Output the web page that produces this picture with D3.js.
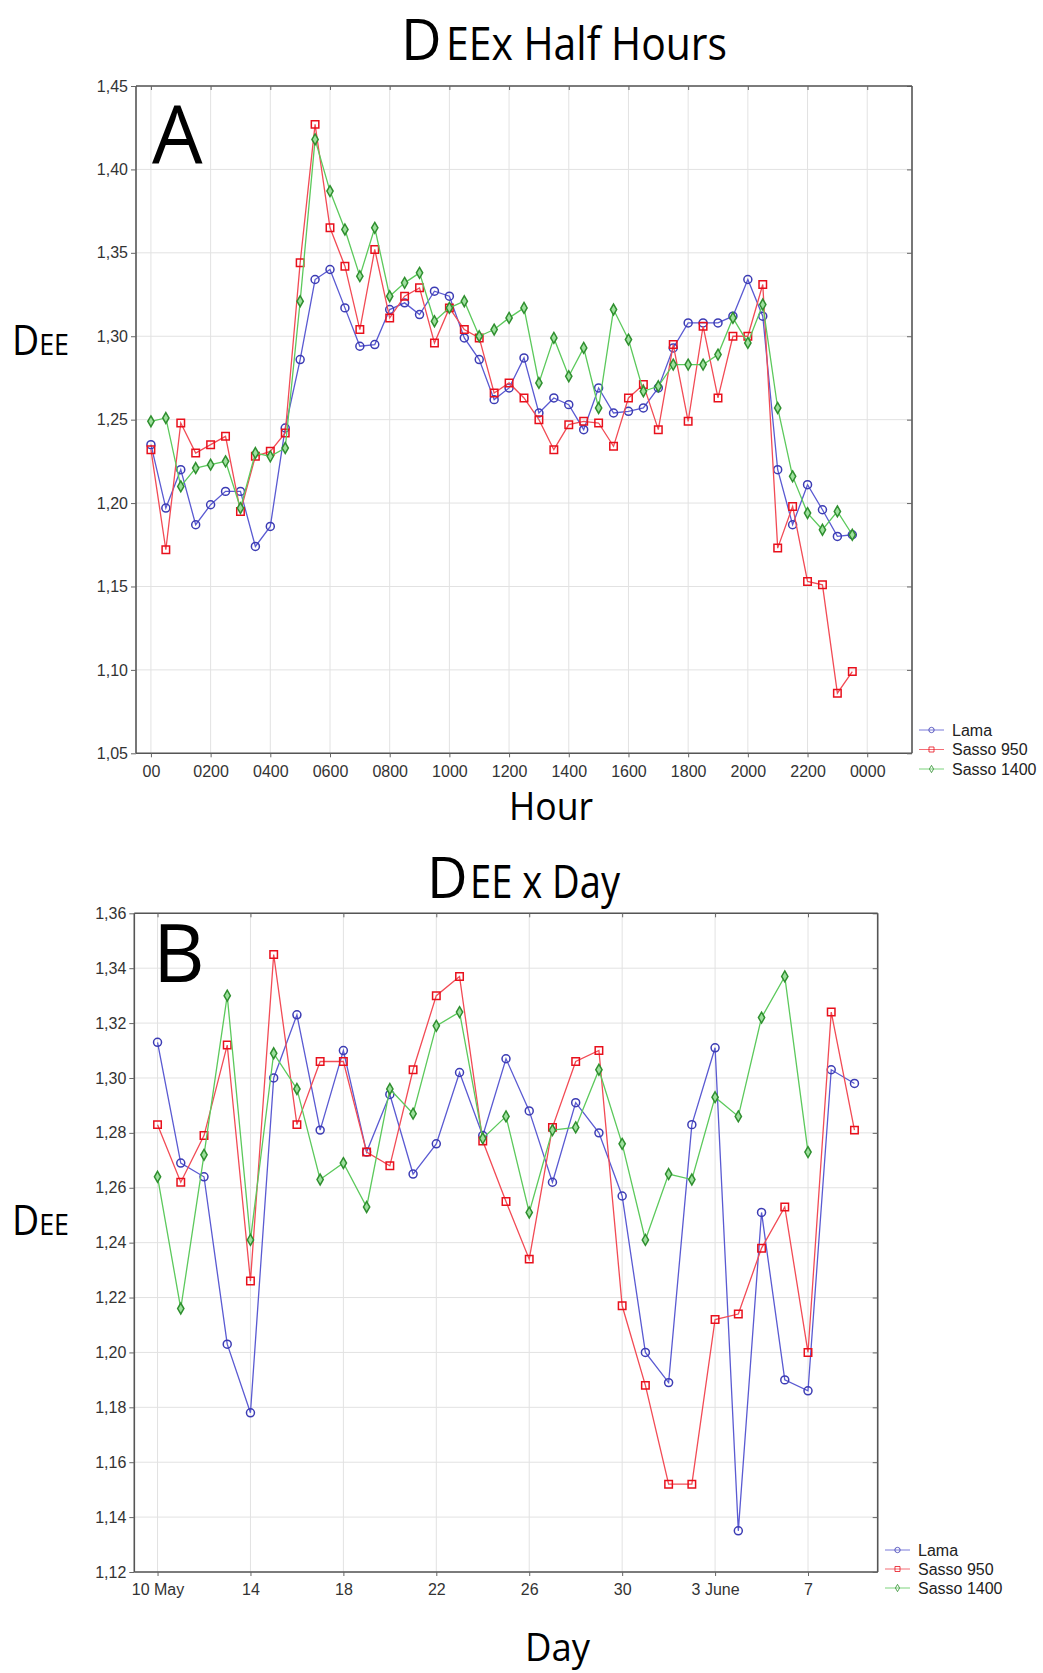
<!DOCTYPE html>
<html><head><meta charset="utf-8">
<script src="https://cdn.jsdelivr.net/npm/d3@7"></script>
<style>body{margin:0;background:#fff}svg{display:block}</style>
</head><body>
<script>
// ---------- DATA ----------
const seriesNames = ["Lama", "Sasso 950", "Sasso 1400"];
const hourTickLabels = ["00","0200","0400","0600","0800","1000","1200","1400","1600","1800","2000","2200","0000"];
const hourYTicks = [1.05,1.10,1.15,1.20,1.25,1.30,1.35,1.40,1.45];
const lamaHalfHour = [1.235,1.197,1.220,1.187,1.199,1.207,1.207,1.174,1.186,1.245,
 1.286,1.334,1.340,1.317,1.294,1.295,1.316,1.320,1.313,1.327,
 1.324,1.299,1.286,1.262,1.269,1.287,1.254,1.263,1.259,1.244,
 1.269,1.254,1.255,1.257,1.269,1.293,1.308,1.308,1.308,1.312,
 1.334,1.312,1.220,1.187,1.211,1.196,1.180,1.181];
const sasso950HalfHour = [1.232,1.172,1.248,1.230,1.235,1.240,1.195,1.228,1.231,1.242,
 1.344,1.427,1.365,1.342,1.304,1.352,1.311,1.324,1.329,1.296,
 1.317,1.304,1.299,1.266,1.272,1.263,1.250,1.232,1.247,1.249,
 1.248,1.234,1.263,1.271,1.244,1.295,1.249,1.306,1.263,1.300,
 1.300,1.331,1.173,1.198,1.153,1.151,1.086,1.099];
const sasso1400HalfHour = [1.249,1.251,1.210,1.221,1.223,1.225,1.197,1.230,1.228,1.233,
 1.321,1.418,1.387,1.364,1.336,1.365,1.324,1.332,1.338,1.309,
 1.317,1.321,1.300,1.304,1.311,1.317,1.272,1.299,1.276,1.293,
 1.257,1.316,1.298,1.267,1.270,1.283,1.283,1.283,1.289,1.311,
 1.296,1.319,1.257,1.216,1.194,1.184,1.195,1.181];

const dayTickLabels = ["10 May","14","18","22","26","30","3 June","7"];
const dayYTicks = [1.12,1.14,1.16,1.18,1.20,1.22,1.24,1.26,1.28,1.30,1.32,1.34,1.36];
const lamaDay = [1.313,1.269,1.264,1.203,1.178,1.300,1.323,1.281,1.310,1.273,
 1.294,1.265,1.276,1.302,1.279,1.307,1.288,1.262,1.291,1.280,
 1.257,1.200,1.189,1.283,1.311,1.135,1.251,1.190,1.186,1.303,1.298];
const sasso950Day = [1.283,1.262,1.279,1.312,1.226,1.345,1.283,1.306,1.306,1.273,
 1.268,1.303,1.330,1.337,1.277,1.255,1.234,1.282,1.306,1.310,
 1.217,1.188,1.152,1.152,1.212,1.214,1.238,1.253,1.200,1.324,1.281];
const sasso1400Day = [1.264,1.216,1.272,1.330,1.241,1.309,1.296,1.263,1.269,1.253,
 1.296,1.287,1.319,1.324,1.278,1.286,1.251,1.281,1.282,1.303,
 1.276,1.241,1.265,1.263,1.293,1.286,1.322,1.337,1.273,null,null];

// ---------- STYLE ----------
const styles = [
  {line:"#5a5ad2", mark:"#3c3cb4", fill:"none", shape:d3.symbolCircle, size:50},
  {line:"#f24b55", mark:"#e8101c", fill:"none", shape:d3.symbolSquare, size:56},
  {line:"#5cc95c", mark:"#2f8f2f", fill:"#9ee09e", shape:d3.symbolDiamond, size:34}
];
const W = 1043, H = 1673;
const svg = d3.select("body").append("svg").attr("width", W).attr("height", H)
  .style("background", "#fff");
const tickFont = "'Liberation Sans', Arial, sans-serif";
const titleFont = "'Open Sans', 'DejaVu Sans', sans-serif";
const fmt = v => d3.format(".2f")(v).replace(".", ",");

function panel(cfg) {
  const g = svg.append("g");
  const x = d3.scaleLinear().domain(cfg.xDomain).range([cfg.left, cfg.right]);
  const y = d3.scaleLinear().domain(cfg.yDomain).range([cfg.bottom, cfg.top]);
  // grid
  g.append("g").selectAll("line.v").data(cfg.xTicks).join("line")
    .attr("x1", d => x(d)).attr("x2", d => x(d)).attr("y1", cfg.top).attr("y2", cfg.bottom)
    .attr("stroke", "#e2e2e2").attr("stroke-width", 1);
  g.append("g").selectAll("line.h").data(cfg.yTicks).join("line")
    .attr("x1", cfg.left).attr("x2", cfg.right).attr("y1", d => y(d)).attr("y2", d => y(d))
    .attr("stroke", "#e2e2e2").attr("stroke-width", 1);
  // axes
  const axL = g.append("g").attr("transform", `translate(${cfg.left},0)`)
    .call(d3.axisLeft(y).tickValues(cfg.yTicks).tickFormat(fmt).tickSize(5).tickPadding(3));
  const axB = g.append("g").attr("transform", `translate(0,${cfg.bottom})`)
    .call(d3.axisBottom(x).tickValues(cfg.xTicks).tickFormat((d,i) => cfg.xLabels[i]).tickSize(4).tickPadding(8));
  const axR = g.append("g").attr("transform", `translate(${cfg.right},0)`)
    .call(d3.axisLeft(y).tickValues(cfg.yTicks).tickFormat("").tickSize(-5).tickSizeOuter(0));
  axR.selectAll(".tick line").attr("x2", -5);
  const axT = g.append("g").attr("transform", `translate(0,${cfg.top})`)
    .call(d3.axisTop(x).tickValues(cfg.xTicks).tickFormat("").tickSizeOuter(0));
  axT.selectAll(".tick line").attr("y2", 4);
  [axL, axB, axR, axT].forEach(a => {
    a.select(".domain").attr("stroke", "#555").attr("stroke-width", 1.6);
    a.selectAll(".tick line").attr("stroke", "#666");
    a.selectAll("text").attr("font-family", tickFont).attr("font-size", 16).attr("fill", "#333");
  });
  axL.select(".domain").attr("d", `M0,${cfg.top}V${cfg.bottom}`);
  axB.select(".domain").attr("d", `M${cfg.left},0H${cfg.right}`);
  axR.select(".domain").attr("d", `M0,${cfg.top}V${cfg.bottom}`);
  axT.select(".domain").attr("d", `M${cfg.left},0H${cfg.right}`);

  // series
  cfg.series.forEach((vals, si) => {
    const st = styles[si];
    const pts = vals.map((v, i) => ({i, v})).filter(d => d.v != null);
    g.append("path").datum(pts)
      .attr("d", d3.line().x(d => x(d.i)).y(d => y(d.v)))
      .attr("fill", "none").attr("stroke", st.line).attr("stroke-width", 1.3);
    g.append("g").selectAll("path").data(pts).join("path")
      .attr("d", d3.symbol().type(st.shape).size(st.size))
      .attr("transform", d => `translate(${x(d.i)},${y(d.v)})`)
      .attr("fill", st.fill).attr("stroke", st.mark).attr("stroke-width", 1.5);
  });

  // panel letter
  g.append("text").attr("x", cfg.letterX).attr("y", cfg.letterY).text(cfg.letter)
    .attr("font-family", titleFont).attr("font-size", 80).attr("fill", "#000");

  // legend
  seriesNames.forEach((name, si) => {
    const st = styles[si];
    const cy = cfg.legY + si * cfg.legStep;
    g.append("line").attr("x1", cfg.legX).attr("x2", cfg.legX + 25).attr("y1", cy).attr("y2", cy)
      .attr("stroke", st.line).attr("stroke-width", 1).attr("opacity", 0.8);
    g.append("path").attr("d", d3.symbol().type(st.shape).size(st.size * 0.45))
      .attr("transform", `translate(${cfg.legX + 12.5},${cy})`)
      .attr("fill", "none").attr("stroke", st.mark).attr("stroke-width", 1).attr("opacity", 0.8);
    g.append("text").attr("x", cfg.legX + 33).attr("y", cy + 5.5).text(name)
      .attr("font-family", tickFont).attr("font-size", 16).attr("fill", "#222");
  });

  // title: large initial "D" (natural width) + rest
  g.append("text").attr("x", cfg.titleX).attr("y", cfg.titleY).text("D")
    .attr("font-family", titleFont).attr("font-size", 56).attr("fill", "#000");
  g.append("text").attr("x", cfg.restX).attr("y", cfg.titleY).text(cfg.titleRest)
    .attr("font-family", titleFont).attr("font-size", 45).attr("fill", "#000")
    .attr("textLength", cfg.titleW).attr("lengthAdjust", "spacingAndGlyphs");

  // y label
  const yl = g.append("text").attr("x", 12).attr("y", cfg.yLabY)
    .attr("font-family", titleFont).attr("fill", "#000");
  yl.append("tspan").attr("font-size", 42).text("D");
  yl.append("tspan").attr("font-size", 30).text("EE");
  yl.attr("textLength", 57).attr("lengthAdjust", "spacingAndGlyphs");

  // x label
  g.append("text").attr("x", cfg.xLabX).attr("y", cfg.xLabY).text(cfg.xLab)
    .attr("font-family", titleFont).attr("font-size", 38).attr("fill", "#000")
    .attr("textLength", cfg.xLabW).attr("lengthAdjust", "spacingAndGlyphs");
}

panel({
  left: 136, right: 912, top: 86, bottom: 753.3,
  xDomain: [-1, 51], yDomain: [1.05, 1.45],
  xTicks: d3.range(0, 49, 4), xLabels: hourTickLabels, yTicks: hourYTicks,
  series: [lamaHalfHour, sasso950HalfHour, sasso1400HalfHour],
  letter: "A", letterX: 152, letterY: 163,
  legX: 919, legY: 730, legStep: 19.5,
  titleX: 401, restX: 446, titleY: 60, titleRest: "EEx Half Hours", titleW: 281,
  yLabY: 355, xLab: "Hour", xLabX: 509, xLabY: 820, xLabW: 84
});

panel({
  left: 134.3, right: 877.7, top: 913.3, bottom: 1572,
  xDomain: [-1, 31], yDomain: [1.12, 1.36],
  xTicks: d3.range(0, 29, 4), xLabels: dayTickLabels, yTicks: dayYTicks,
  series: [lamaDay, sasso950Day, sasso1400Day],
  letter: "B", letterX: 153, letterY: 982,
  legX: 885, legY: 1550, legStep: 19,
  titleX: 427, restX: 470, titleY: 898, titleRest: "EE x Day", titleW: 150,
  yLabY: 1235, xLab: "Day", xLabX: 525, xLabY: 1661, xLabW: 65
});
</script>
</body></html>
